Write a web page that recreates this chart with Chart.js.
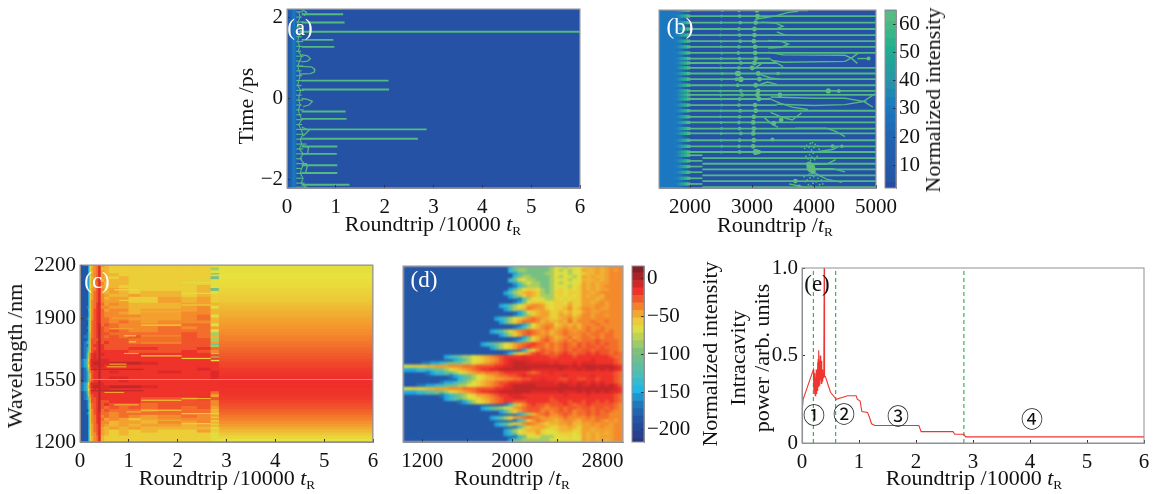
<!DOCTYPE html>
<html>
<head>
<meta charset="utf-8">
<title>Soliton chart</title>
<script src="https://cdn.jsdelivr.net/npm/chart.js@4"></script>
<style>
  html, body { margin: 0; padding: 0; background: #fff; }
  #page { position: relative; width: 1163px; height: 494px; overflow: hidden; }
  canvas { position: absolute; }
  .txt { position: absolute; white-space: nowrap; font-family: "Liberation Serif", serif; color: #111; transform: translate(-50%, -50%); line-height: 1; }
  .txt sub { font-size: .6em; vertical-align: -.3em; line-height: 0; }
</style>
</head>
<body>
<div id="page"></div>
<script>
// ---- ticks
const roundTicks = [0, 1, 2, 3, 4, 5, 6];
const aYTicks = [-2, 0, 2];
const aYLabels = ['\u22122', '0', '2'];
const bXTicks = [2000, 3000, 4000, 5000];
const bBarTicks = [10, 20, 30, 40, 50, 60];
const cYTicks = [1200, 1550, 1900, 2200];
const dXTicks = [1200, 1600, 2000, 2400, 2800];
const dXLabels = ['1200', '', '2000', '', '2800'];
const dBarTicks = [-200, -150, -100, -50, 0];
const eYTicks = [0, 0.5, 1];
const eYLabels = ['0', '0.5', '1.0'];

// ---- panel a
const aBgX = [0, 0.04, 0.08, 0.11, 0.14, 0.17, 0.2, 0.23, 6];
const aBgVal = [8, 13, 20, 28, 31, 24, 12, 5];
const aLineT = [2.07, 1.87, 1.64, 1.44, 1.27, 0.44, 0.22, -0.32, -0.5, -0.76, -0.99, -1.18, -1.36, -1.64, -1.83, -2.12];
const aLineEnd = [1.15, 1.18, 6, 0.95, 0.97, 2.08, 2.09, 1.2, 1.22, 2.86, 2.68, 1.03, 1.02, 1.03, 1.03, 1.28];
const aSeedT = [2.13, 2.0, 1.88, 1.76, 1.64, 1.52, 1.4, 1.28, 1.16, 1.04, 0.92, 0.8, 0.68, 0.56, 0.44, 0.32, 0.2, 0.08, -0.04, -0.16, -0.28, -0.4, -0.52, -0.64, -0.76, -0.88, -1.0, -1.12, -1.24, -1.36, -1.48, -1.6, -1.72, -1.84, -1.96, -2.08, -2.18];
const aSeedEnd = [0.33, 0.3, 0.34, 0.29, 0.35, 0.3, 0.33, 0.31, 0.29, 0.34, 0.3, 0.33, 0.3, 0.31, 0.36, 0.3, 0.35, 0.3, 0.33, 0.3, 0.34, 0.3, 0.33, 0.31, 0.37, 0.33, 0.31, 0.4, 0.33, 0.4, 0.31, 0.41, 0.3, 0.36, 0.31, 0.36, 0.42];
const aWiggleX = [0.24, 0.27, 0.22, 0.25, 0.28, 0.24, 0.22, 0.26, 0.23, 0.3, 0.26, 0.22, 0.25, 0.27, 0.24, 0.22, 0.28, 0.25, 0.24, 0.27, 0.23, 0.26, 0.3, 0.24, 0.28, 0.33, 0.27, 0.3, 0.25, 0.33, 0.27, 0.35, 0.3, 0.27, 0.33, 0.29, 0.38];
const aLoops = [
  [[0.3, 1.08], [0.42, 1.05], [0.48, 0.98], [0.42, 0.92], [0.3, 0.9]],
  [[0.25, 0.79], [0.5, 0.78], [0.57, 0.72], [0.56, 0.65], [0.48, 0.61], [0.25, 0.6]],
  [[0.3, 0], [0.42, -0.02], [0.52, -0.07], [0.45, -0.16], [0.33, -0.2]],
  [[0.28, 2.2], [0.4, 2.12], [0.35, 2.03]],
  [[0.3, -0.7], [0.45, -0.78], [0.33, -0.92]],
  [[0.32, -1.16], [0.44, -1.2], [0.42, -1.36]],
  [[0.36, -1.6], [0.42, -1.64], [0.38, -1.83]]
];

// ---- panel b
const bBgX = [1500, 1600, 1700, 1780, 1820, 1860, 1900, 1940, 1980, 5000];
const bBgVal = [31, 31, 31, 30, 28, 23, 16, 9, 5];
const bFadeX = [1740, 1790, 1830, 1870, 1910, 1950];
const bFadeVal = [32, 35, 40, 47, 54, 60];
const bRowT = [2.19, 2.05, 1.89, 1.73, 1.58, 1.43, 1.29, 1.14, 1.0, 0.89, 0.77, 0.63, 0.49, 0.34, 0.2, 0.1, 0, -0.15, -0.29, -0.44, -0.58, -0.73, -0.85, -1.02, -1.17, -1.31, -1.46, -1.6, -1.74, -1.89, -2.03, -2.18];
const bRowStart = [2000, 1950, 1950, 1950, 1950, 1950, 1950, 1950, 1950, 1950, 1950, 1950, 1950, 1950, 1950, 1950, 1950, 1950, 1950, 1950, 1950, 1950, 1950, 1950, 1950, 1950, 2200, 2200, 2200, 2200, 2200, 2200];
const bRowEnd = [3900, 5000, 5000, 5000, 5000, 5000, 5000, 5000, 3300, 3400, 5000, 5000, 5000, 5000, 5000, 5000, 3300, 3400, 5000, 5000, 5000, 5000, 5000, 5000, 5000, 5000, 5000, 5000, 5000, 5000, 5000, 5000];
const bLowT = [-1.39, -1.53, -1.67, -1.81, -1.96, -2.1];
const bCol2500 = [2520, 2510, 2500, 2500, 2490, 2500, 2500, 2510, 2500, 2490, 2500, 2520, 2510, 2500, 2490, 2500, 2500, 2510, 2500, 2490, 2500, 2510, 2500, 2500, 2510, 2500];
const bCol2800 = [2790, 2800, 2810, 2790, 2800, 2810, 2790, 2780, 2800, 2820, 2790, 2760, 2750, 2770, 2820, 2840, 2800, 2790, 2810, 2800, 2790, 2800, 2820, 2800, 2790, 2800];
const bCol3050 = [3080, 3090, 3060, 3040, 3040, 3030, 3050, 3050, 3060, 3040, 3000, 3100, 3120, 3060, 3100, 3090, 3110, 3050, 3060, 3030, 3020, 3030, 3020, 3030, 3020, 3060];
const bBranches = [
  [[3048, 1.97], [3371, 2.05], [3586, 2.14], [3747, 2.17]],
  [[3156, 1.9], [3371, 1.88], [3500, 1.8], [3371, 1.72], [3156, 1.72]],
  [[3400, 1.66], [3540, 1.58]],
  [[3263, 1.45], [3478, 1.42], [3586, 1.36], [3478, 1.28], [3263, 1.26]],
  [[3263, 1.16], [3500, 1.09], [4500, 1.08], [4600, 1.01], [4500, 0.93], [3500, 0.91], [3350, 0.95]],
  [[4600, 1.01], [4720, 1.14]],
  [[4600, 1.01], [4700, 0.88]],
  [[4700, 1.0], [4900, 1.0]],
  [[3300, 0.98], [3500, 0.8]],
  [[3000, 0.72], [3150, 0.87]],
  [[3100, 0.62], [3300, 0.52], [3450, 0.49]],
  [[3100, 0.34], [3250, 0.42], [3400, 0.36]],
  [[3300, 0.05], [4000, 0.02], [4500, 0.02], [4800, -0.06], [4500, -0.14], [4000, -0.16], [3400, -0.13]],
  [[4800, -0.06], [4984, 0.13]],
  [[4800, -0.06], [4950, -0.2]],
  [[3263, 0.02], [3450, -0.1], [3650, -0.2], [3900, -0.26]],
  [[3300, -0.33], [3480, -0.45], [3650, -0.52], [3800, -0.34]],
  [[3200, -0.46], [3300, -0.6], [3420, -0.7]],
  [[3700, -0.72], [4200, -0.72], [4350, -0.8], [4500, -0.93]],
  [[4000, -1.72], [4300, -1.72], [4500, -1.8]],
  [[3990, -1.62], [4220, -1.6], [4350, -1.5]],
  [[3980, -1.8], [4200, -1.98], [4450, -2.06]],
  [[4050, -1.3], [4300, -1.25], [4400, -1.17]],
  [[3600, -2.1], [3800, -2.16], [4000, -2.2]]
];
const bBlobX = [3450, 3470, 3350, 4231, 4400, 4300, 4450, 3700, 3760, 3330, 3420, 3950, 3920, 3980, 4880, 3060, 2780, 2820, 2760, 3110];
const bBlobT = [0.1, -0.52, -0.6, 0.2, 0.2, -1.17, -1.17, -2.03, -2.16, -1.0, 0.63, -1.7, -1.62, -1.78, 1.0, -1.31, 0.63, 0.49, 0.63, -1.31];
const bBlobR = [2.4, 2.4, 2.4, 2.6, 2, 2, 1.8, 2.4, 1.8, 2, 1.8, 4.4, 3, 3, 2, 3, 2.8, 2.8, 2.4, 2.2];
const bSprayX = [3800, 3820, 3850, 3870, 3880, 3900, 3905, 3920, 3930, 3940, 3945, 3960, 3965, 3975, 3990, 4000, 4010, 4020, 4040, 4050, 4060, 4080, 4100, 4120, 4140, 3840, 3860, 3890, 3910, 3935, 3950, 3970, 3995, 4015, 4035, 4065, 4090, 3925, 3955, 3985];
const bSprayT = [-1.18, -1.3, -1.22, -1.42, -1.15, -1.3, -1.48, -1.2, -1.38, -1.1, -1.52, -1.26, -1.44, -1.08, -1.34, -1.2, -1.5, -1.12, -1.3, -1.42, -1.16, -1.24, -1.9, -2.0, -2.1, -1.92, -2.04, -2.0, -2.12, -1.95, -2.15, -2.02, -1.92, -2.18, -2.05, -1.96, -2.12, -1.85, -1.88, -2.08];
const bBarLevels = [3, 6, 9, 12, 15, 18, 21, 24, 27, 30, 33, 36, 39, 42, 45, 48, 51, 54, 57, 60, 63];

// ---- shared heat levels for c and d, one character per cell (base 36 index)
const heatLevels = [-183, -165, -150, -135, -118, -100, -82, -63, -56, -49, -43, -37, -30, -23, -15, -9, -2, 8];

// ---- panel c
const cEdges = [0, 0.08, 0.14, 0.17, 0.2, 0.23, 0.28, 0.34, 0.38, 0.43, 0.5, 0.6, 0.8, 1.0, 1.25, 1.6, 2.08, 2.4, 2.68, 2.85];
const cRows = [
  '000279bcfa98888888777', '00027abcf998888888677', '000279bcfa98888888777', '00027abcfa99888888777',
  '000279bdfa98988888577', '00027abdf9a9988888777', '00027abcfb99988888777', '000279bdfa99888889788',
  '00027abdfb9a988889588', '00028acdfa9a989989788', '00028acdfba99a9989888', '00028acdfb9aa88a9a888',
  '00028bcdfbaaa88a9a888', '00028bcefcaba999aa999', '00128bcefbbaa999ab799', '00038bdefcabb9aaab999',
  '00028bdefcbba9aabb999', '00028bdefcbbbbaabc7aa', '00138bdefccbbaaabc9aa', '00038cdefccbcbabbb9aa',
  '00038cdegcdcbbbbcc7bb', '00138cdegdccbbbcbcabb', '00038cdegdcdcbbccc7bb', '00139cdegddcccccdc6cc',
  '01139cdegdcdcdccdc9cc', '00139dddgddddcccdd6cc', '01249ddegdeddcccddadd', '01139deegedddddddd6dd',
  '01249ddegedddeeddecdd', '01259deegeeeedddedbee', '0136cefegfeeeeeeeedee', '0136cefegeeeeeeeeeeee',
  '1248dfffgffeeeeeeedee', '1259dfgggffgggfeeeeee', '1247dfffgfeeeeeeeeeee', '0136cefegeeeeeeeefeff',
  '0125bdeegeefeeefeefff', '01259deegeeeeeeeeefff', '01249deegeeffeeeeefff', '0125bdeegeeefeeeeeeff',
  '1247dfffgfeeeeeeeeeee', '1259dfgggffgggfeeeeee', '1247cefegffeeeeeeeeee', '0136ceeegeeeeeeeeecee',
  '0126bdeegeeeeeeeeeaee', '01249ddegeeeeedddedee', '00139ddegddeeeddddbdd', '00138cdegdedddcdddbdd',
  '00138cdegdcdcdcdcdacc', '00028bdegcdcccbccc9cc', '00138bdefccbcccccc9cc', '00028bcefbcbcbabcbabb',
  '00028bcefcaba9abbbabb', '00028bcefbb9aa9bab9aa', '00028acdfba9a9aa9a999', '00028acdfa9a9a9999888',
  '00027acdfa9898988a888', '00027abdfa98988888777', '000279bcf988888888777', '000279bcf988888888777'
];
const cFarFrom = 2.85;
const cFarTo = 6;
const cFarDb = [-62, -62, -62, -61, -61, -60, -60, -59, -58, -57, -56, -55, -54, -52, -50, -49, -47, -46, -44, -43, -41, -40, -38, -37, -35, -34, -32, -31, -29, -27, -25, -24, -22, -20, -19, -17, -16, -15, -14, -14, -14, -14, -15, -15, -16, -17, -19, -21, -23, -26, -29, -32, -35, -38, -42, -46, -50, -54, -58, -61];
const cStreakL = [1553, 1610, 1490, 1625, 1480, 1936, 1860, 1687, 1436, 1379, 1323, 1672, 1445, 1360, 1304, 2100, 2040, 1974, 1800, 1766, 2150, 1770, 1750, 1700, 1680, 1660, 1360, 1340, 1320, 1300, 1280, 1260, 1800, 1760, 1640, 1410, 1370, 1330, 2060, 2000, 1900, 1840, 1700];
const cStreakA = [0.22, 0.22, 0.22, 0.55, 0.5, 1.25, 1.25, 1.25, 1.25, 1.25, 1.25, 2.08, 2.08, 2.08, 2.08, 2.08, 2.08, 2.08, 0.9, 1.0, 2.68, 2.68, 2.68, 2.68, 2.68, 2.68, 2.68, 2.68, 2.68, 2.68, 2.68, 2.68, 1.25, 1.25, 0.6, 0.7, 0.95, 1.0, 0.7, 0.8, 0.65, 0.6, 0.9];
const cStreakB = [6, 1.3, 1.3, 0.95, 0.9, 2.08, 2.08, 2.08, 2.08, 2.08, 2.08, 2.68, 2.68, 2.68, 2.68, 2.68, 2.68, 2.68, 1.15, 1.15, 2.85, 2.85, 2.85, 2.85, 2.85, 2.85, 2.85, 2.85, 2.85, 2.85, 2.85, 2.85, 2.08, 2.08, 0.95, 1.2, 1.25, 1.25, 1.2, 1.2, 1.2, 1.1, 1.2];
const cStreakV = ['b', 'g', 'g', 'a', 'a', '9', '8', '8', '8', '9', '9', '8', '9', '8', '8', '7', '7', '8', '8', '8', '5', '6', '5', '6', '6', '7', '8', '8', '8', '8', '7', '8', 'b', 'b', 'a', '9', '9', '8', '7', '8', 'a', 'a', 'a'];

// ---- panel d
const dColWidth = 40.7;
const dColStart = 1030;
const dStart = [23, 23, 24, 24, 23, 24, 24, 23, 22, 23, 25, 24, 21, 22, 25, 24, 20, 21, 26, 24, 19, 21, 26, 24, 17, 19, 26, 22, 9, 11, 4, 0, 0, 5, 10, 12, 8, 3, 0, 0, 8, 9, 12, 22, 17, 21, 25, 19, 24, 20, 24, 22, 22, 24, 23];
const dFinger = [
  '2455555556', '3566555556', '245555566', '356655556', '3577665556', '246766556', '135666556', '2467887656',
  '24689a98656', '2468a98666', '14677766', '125788877', '234678abba87', '24689cbaa87', '25789aa8', '124689aa8',
  '2346789bcba987', '2468acccb9a9', '2579abb', '124689bcb', '234679bcdcbab9', '2468acdcbab9', '2589bcb', '12468acdb',
  '2345678abcdedcbc', '24678acdedccbc', '268bdcc', '13689bdedcd', '234566789abcdeeeefeeeeed', '23467789abdefffffeeeee',
  '11223455566789abcdefgggfffffe', '7788899aaabbbcccddddeeffggggggggg', '2223334556789abcdeeffgggggggfffff',
  '1233456789abbcccdeeeeedcdeef', '123456789abccddefeeeeee', '34567899aabbccddeefee', '1223456789abcddeeefffffff',
  '112233455667789abcdefgggggfffff', '7788899aaabbbcccddddeeffgggggggggg', '2223344556789abcdeeffgggggggfffff',
  '12345678aabcdeefffeeeeeee', '234567789abcdeefffeeeeed', '1246789bcdeedddeeeeed', '1369bdeddcd', '2345678abcdddcbc',
  '2468acdddbcb', '2469bcdb', '23468abcdcbaba', '1358acbaa', '234689bcba989', '136899a98', '2467899a877', '2357888a877',
  '135777666', '2456666667'
];
const dRight = [
  '776777899a9abbb', '767677a99a9abab', '777677899a9abbb', '767767a9a99abbb', '777677999a9abbb', '767777a9a9aabbb', '777678a9a9abbbb', '787878a9a9aabbb',
  '887888aa9abbbbb', '787878a9aa9bbbb', '878788aaa9abbbb', '887988aa9ababbb', '888a88aaabbabbb', '889b89bbabaabbb', '898988abaabbbbb', '8a9a89bbabbabbb',
  '89ab9abbabbbbbb', '9a9c9bbbcbbcbbb', '89a9a9bbbcbbbbb', '9abab9bcbbcbbbb', 'abcbabbcbccbcbb', 'abcbbbcbccbccbb', '9abcabccbcbccbb', 'abcbcbcccdccccb',
  'bcdcbdcdcdcdccb', 'bcdccdcddcdcccb', 'bcdcdcddcdddccb', 'cdedcddededdcdc', 'deeedeeeeeeedcc', 'eeeeeeeefeeeedc', 'feeefefffeeeedc',
  'gggfgfgggggggfe', 'fgfffgfggfgfgfe', 'eeeeeeeeeeeeedc', 'eefeeeeefeeeedc', 'eddeeddeedeeedc', 'efefeffefefeedc', 'fggffgffgfgfgfd',
  'gggggggggggggfe', 'fgfffgfgfgfgffe', 'eefeeeefeeeeedc', 'eeeeeeeeeeeeedc', 'deedeedeedededc', 'ddedcddedddddcb', 'cdcddcddcddcdcb',
  'cdcdbccdcdcdcbb', 'bcdcbccdcdccbbb', 'abcbbbbcbcccbbb', '9abba9bbbcbabab', '9aab99aababbabb', '899a98aaaabaabb', '899988aa9aaaabb', '788878a9a9a9abb',
  '777877a9a9aaabb', '777777a9a9a9abb'
];
const dBarLevels = [-215, -205, -195, -185, -175, -165, -155, -145, -135, -125, -115, -105, -95, -85, -75, -65, -55, -45, -35, -25, -15, -5, 5, 15];

// ---- panel e
const eX = [0, 0.005, 0.012, 0.02, 0.2, 0.205, 0.21, 0.215, 0.22, 0.226, 0.232, 0.238, 0.244, 0.25, 0.255, 0.26, 0.266, 0.272, 0.278, 0.284, 0.29, 0.296, 0.302, 0.308, 0.314, 0.32, 0.326, 0.332, 0.338, 0.344, 0.35, 0.356, 0.362, 0.37, 0.38, 0.385, 0.39, 0.395, 0.41, 0.45, 0.5, 0.55, 0.6, 0.7, 0.8, 0.95, 0.97, 1.02, 1.05, 1.15, 1.18, 1.22, 1.28, 2.05, 2.09, 2.65, 2.68, 2.84, 2.87, 6];
const eY = [0, 0.34, 0.206, 0.25, 0.42, 0.42, 0.3, 0.38, 0.28, 0.4, 0.27, 0.37, 0.29, 0.42, 0.28, 0.4, 0.3, 0.46, 0.3, 0.48, 0.32, 0.53, 0.33, 0.47, 0.34, 0.5, 0.36, 0.44, 0.34, 0.47, 0.36, 0.42, 0.35, 0.4, 0.37, 0.4, 1.05, 0.38, 0.38, 0.34, 0.29, 0.27, 0.25, 0.26, 0.27, 0.27, 0.25, 0.24, 0.18, 0.175, 0.15, 0.11, 0.1, 0.1, 0.065, 0.065, 0.05, 0.05, 0.035, 0.035];
const eDashX = [0.2, 0.59, 2.84];

// ---- colour maps
const tealStops = [[2, '#28479f'], [6, '#2456a6'], [19, '#2162b0'], [31, '#1b78c0'], [40, '#2a93a8'], [52, '#1fb090'], [65, '#62bd7e']];
const jetStops = [[-216, '#2a3580'], [-183, '#2456a6'], [-161, '#1f7fc0'], [-146, '#1fb6e8'], [-126, '#4dbdb8'], [-96, '#7cc07c'], [-61, '#e8e03c'], [-39, '#f5922c'], [-13, '#ee2b2a'], [17, '#7a1f24']];

function rgb(hex) {
  return [1, 3, 5].map(i => parseInt(hex.slice(i, i + 2), 16));
}
function pickColor(stops, v) {
  if (v <= stops[0][0]) return stops[0][1];
  for (let i = 1; i < stops.length; i++) {
    if (v <= stops[i][0]) {
      const f = (v - stops[i - 1][0]) / (stops[i][0] - stops[i - 1][0]);
      const a = rgb(stops[i - 1][1]), b = rgb(stops[i][1]);
      return 'rgb(' + a.map((c, k) => Math.round(c + (b[k] - c) * f)).join(',') + ')';
    }
  }
  return stops[stops.length - 1][1];
}
const tealColor = v => pickColor(tealStops, v);
const jetColor = v => pickColor(jetStops, v);
const level = ch => heatLevels[parseInt(ch, 36)];

// ---- dataset helpers
function cells(list, colorOf, thickness, order) {
  return {
    type: 'bar', indexAxis: 'y', grouped: false, order: order || 9,
    data: list.map(c => ({ x: [c[0], c[1]], y: c[2] })),
    backgroundColor: list.map(c => colorOf(c[3])),
    barThickness: thickness, borderWidth: 0
  };
}
function line(points, color, width, order, dash) {
  return {
    type: 'line', order: order || 3,
    data: points.map(p => ({ x: p[0], y: p[1] })),
    borderColor: color, borderWidth: width, borderDash: dash || [],
    pointRadius: 0, tension: 0, fill: false
  };
}
function dots(xs, ys, radius, color, order) {
  return {
    type: 'scatter', order: order || 2,
    data: xs.map((x, i) => ({ x: x, y: ys[i] })),
    pointRadius: radius, pointBackgroundColor: color, pointBorderWidth: 0, showLine: false
  };
}

const framePlugin = {
  id: 'frame',
  afterDraw(chart) {
    const a = chart.chartArea, c = chart.ctx;
    c.save();
    c.strokeStyle = '#8f8f98';
    c.lineWidth = 1;
    c.strokeRect(a.left, a.top, a.right - a.left, a.bottom - a.top);
    c.restore();
  }
};

const page = document.getElementById('page');
const tickFont = { family: '"Liberation Serif", serif', size: 21 };

function axis(side, min, max, ticks, labels, size) {
  const hide = !ticks.length;
  return {
    type: 'linear', position: side, min: min, max: max, offset: false,
    display: !hide,
    afterBuildTicks(s) { s.ticks = ticks.map(v => ({ value: v })); },
    afterFit(s) {
      s.paddingLeft = s.paddingRight = s.paddingTop = s.paddingBottom = 0;
      if (hide) return;
      if (s.axis === 'x') s.height = size; else s.width = size;
    },
    grid: { drawOnChartArea: false, offset: false, tickLength: -3, tickColor: '#333', z: 1 },
    border: { color: '#8f8f98', z: 2 },
    ticks: {
      font: tickFont, color: '#111', maxRotation: 0, autoSkip: false,
      padding: side === 'bottom' ? 10 : (side === 'right' ? 6 : 7),
      callback(v) {
        if (labels) return labels[ticks.indexOf(v)];
        return String(v).replace('-', '\u2212');
      }
    }
  };
}

function panel(box, sx, sy, datasets, bg, blur, clip) {
  const hasX = sx.ticks.length > 0, hasY = sy.ticks.length > 0;
  const mL = 62, mR = box.rightAxis ? 72 : 30, mT = 8, mB = 36;
  const cv = document.createElement('canvas');
  cv.width = box.r - box.l + mL + mR;
  cv.height = box.b - box.t + mT + mB;
  cv.style.left = (box.l - mL) + 'px';
  cv.style.top = (box.t - mT) + 'px';
  if (blur) cv.style.filter = 'blur(' + blur + 'px)';
  if (clip) cv.style.clipPath = 'inset(' + mT + 'px ' + mR + 'px ' + mB + 'px ' + mL + 'px)';
  page.appendChild(cv);
  const ySide = box.rightAxis ? 'right' : 'left';
  new Chart(cv.getContext('2d'), {
    type: 'line',
    data: { datasets: datasets },
    options: {
      responsive: false, animation: false, devicePixelRatio: 1,
      layout: {
        autoPadding: false,
        padding: {
          left: hasY && !box.rightAxis ? 0 : mL,
          right: hasY && box.rightAxis ? 0 : mR,
          top: mT,
          bottom: hasX ? 0 : mB
        }
      },
      plugins: { legend: { display: false }, tooltip: { enabled: false } },
      scales: {
        x: axis('bottom', sx.min, sx.max, sx.ticks, sx.labels, mB),
        y: axis(ySide, sy.min, sy.max, sy.ticks, sy.labels, box.rightAxis ? mR : mL)
      }
    },
    plugins: [framePlugin, {
      id: 'plotBg',
      beforeDatasetsDraw(chart) {
        const a = chart.chartArea;
        chart.ctx.fillStyle = bg;
        chart.ctx.fillRect(a.left, a.top, a.right - a.left, a.bottom - a.top);
      }
    }]
  });
}

// soft picture below, clipped to the box, crisp axes on top
function heatPanel(box, sx, sy, datasets, bg, blur) {
  panel(box, { min: sx.min, max: sx.max, ticks: [] }, { min: sy.min, max: sy.max, ticks: [] }, datasets, bg, blur, true);
  panel(box, sx, sy, [], 'transparent', 0.4);
}

function text(html, x, y, size, opt) {
  const d = document.createElement('div');
  d.className = 'txt';
  d.innerHTML = html;
  d.style.left = x + 'px';
  d.style.top = y + 'px';
  d.style.fontSize = size + 'px';
  opt = opt || {};
  if (opt.color) d.style.color = opt.color;
  if (opt.family) d.style.fontFamily = opt.family;
  if (opt.rotate) d.style.transform = 'translate(-50%,-50%) rotate(-90deg)';
  page.appendChild(d);
}

// ---- panel a
const lineGreen = tealColor(62);
const aDs = [];
aDs.push(cells(aBgVal.map((v, i) => [aBgX[i], aBgX[i + 1], 0, v]), tealColor, 400));
aLineT.forEach((t, i) => aDs.push(line([[0.3, t], [aLineEnd[i], t]], lineGreen, 1.9)));
aSeedT.forEach((t, i) => aDs.push(line([[0.19, t], [aSeedEnd[i], t]], lineGreen, 1.2)));
aDs.push(line(aSeedT.map((t, i) => [aWiggleX[i], t]), lineGreen, 1.1));
aLoops.forEach(p => aDs.push(line(p, lineGreen, 1.3)));
heatPanel({ l: 287, r: 580, t: 9, b: 188 }, { min: 0, max: 6, ticks: roundTicks }, { min: -2.2, max: 2.2, ticks: aYTicks, labels: aYLabels }, aDs, tealColor(5), 0.6);

// ---- panel b
const bDs = [];
bDs.push(cells(bBgVal.map((v, i) => [bBgX[i], bBgX[i + 1], 0, v]), tealColor, 400));
const bFade = [];
bRowT.concat(bLowT).forEach((t, r) => {
  if (r < 26 || r >= bRowT.length) {
    bFadeVal.forEach((v, i) => bFade.push([bFadeX[i], bFadeX[i] + 50, t, v]));
  }
});
bDs.push(cells(bFade, tealColor, 2.6, 8));
const rowGreen = tealColor(62);
bRowT.forEach((t, i) => bDs.push(line([[bRowStart[i], t], [bRowEnd[i], t]], rowGreen, 1.8)));
bLowT.forEach(t => bDs.push(line([[1950, t], [2200, t]], rowGreen, 1.7)));
bBranches.forEach(p => bDs.push(line(p, rowGreen, 1.4)));
bDs.push(dots(bCol2500, bRowT.slice(0, 26), 1.5, tealColor(60)));
bDs.push(dots(bCol2800, bRowT.slice(0, 26), 1.9, tealColor(62)));
bDs.push(dots(bCol3050, bRowT.slice(0, 26), 2.4, tealColor(64)));
bDs.push(dots(bBlobX, bBlobT, bBlobR, tealColor(64), 1));
bDs.push(dots(bSprayX, bSprayT, 0.9, tealColor(62), 1));
heatPanel({ l: 659, r: 876, t: 10, b: 188 }, { min: 1500, max: 5000, ticks: bXTicks }, { min: -2.2, max: 2.2, ticks: [] }, bDs, tealColor(5), 0.5);
panel({ l: 885, r: 896, t: 10, b: 188, rightAxis: true }, { min: 0, max: 1, ticks: [] }, { min: 2, max: 65, ticks: bBarTicks },
  [cells(bBarLevels.map(v => [0, 1, v, v]), tealColor, 10)], tealColor(5), 0.4);

// ---- panel c
const cCells = [];
const cRowCount = cRows.length;
cRows.forEach((row, r) => {
  const lam = 2200 - (r + 0.5) * 1000 / cRowCount;
  for (let c = 0; c < cEdges.length - 1; c++) {
    cCells.push([cEdges[c], cEdges[c + 1], lam, level(row[c] || row[row.length - 1])]);
  }
  cCells.push([cFarFrom, cFarTo, lam, cFarDb[r]]);
});
const cDs = [cells(cCells, jetColor, 3.5)];
cStreakL.forEach((l, i) => {
  cDs.push(line([[cStreakA[i], l], [cStreakB[i], l]], jetColor(level(cStreakV[i])), 1.2));
});
heatPanel({ l: 80, r: 373, t: 265, b: 442 }, { min: 0, max: 6, ticks: roundTicks }, { min: 1200, max: 2200, ticks: cYTicks }, cDs, jetColor(-183), 0.7);

// ---- panel d
const dCells = [];
const dRowCount = dStart.length;
dStart.forEach((s, r) => {
  const rowVal = dRowCount - r - 0.5;
  const colX = k => dColStart + k * dColWidth;
  const fg = dFinger[r];
  for (let k = s; k < 33; k++) {
    const ch = fg[k - s] || fg[fg.length - 1];
    dCells.push([colX(k), colX(k + 1), rowVal, level(ch)]);
  }
  for (let k = 0; k < dRight[r].length; k++) {
    dCells.push([colX(33 + k), colX(34 + k), rowVal, level(dRight[r][k])]);
  }
});
heatPanel({ l: 403, r: 623, t: 266, b: 442 }, { min: 1030, max: 2983, ticks: dXTicks, labels: dXLabels }, { min: 0, max: dRowCount, ticks: [] }, [cells(dCells, jetColor, 3.7)], jetColor(-183), 1);
panel({ l: 632, r: 644, t: 266, b: 442, rightAxis: true }, { min: 0, max: 1, ticks: [] }, { min: -216, max: 17, ticks: dBarTicks },
  [cells(dBarLevels.map(v => [0, 1, v, v]), jetColor, 9)], jetColor(-183), 0.4);

// ---- panel e
const eDs = [line(eX.map((x, i) => [x, eY[i]]), '#ee3530', 1.1, 2)];
eDashX.forEach(x => eDs.push(line([[x, 0], [x, 1]], '#35b45a', 1.2, 3, [4, 3])));
panel({ l: 802, r: 1144, t: 268, b: 443 }, { min: 0, max: 6, ticks: roundTicks }, { min: 0, max: 1, ticks: eYTicks, labels: eYLabels }, eDs, '#ffffff', 0.4);

// ---- labels
const rt = 'Roundtrip /10000 <i>t</i><sub>R</sub>';
const rt2 = 'Roundtrip /<i>t</i><sub>R</sub>';
text(rt, 433, 224, 22);
text(rt2, 775, 225, 22);
text(rt, 227, 478, 22);
text(rt2, 512, 478, 22);
text(rt, 974, 478, 22);
text('Time /ps', 246, 106, 22, { rotate: true });
text('Wavelength /nm', 15, 356, 22, { rotate: true });
text('Intracavity', 738, 358, 22, { rotate: true });
text('power /arb. units', 762, 358, 22, { rotate: true });
text('Normalized intensity', 933, 100, 22, { rotate: true });
text('Normalized intensity', 710, 354, 22, { rotate: true });
text('(a)', 300, 27, 23, { color: '#fff' });
text('(b)', 680, 26, 23, { color: '#fff' });
text('(c)', 97, 280, 23, { color: '#fff' });
text('(d)', 424, 279, 23, { color: '#fff' });
text('(e)', 817, 283, 23);
const circled = ['\u2460', '\u2461', '\u2462', '\u2463'];
const circledX = [814, 844, 898, 1032];
const circledY = [413, 412, 414, 417];
circled.forEach((c, i) => text(c, circledX[i], circledY[i], 22, { family: '"Noto Sans CJK SC", serif' }));
</script>
</body>
</html>
